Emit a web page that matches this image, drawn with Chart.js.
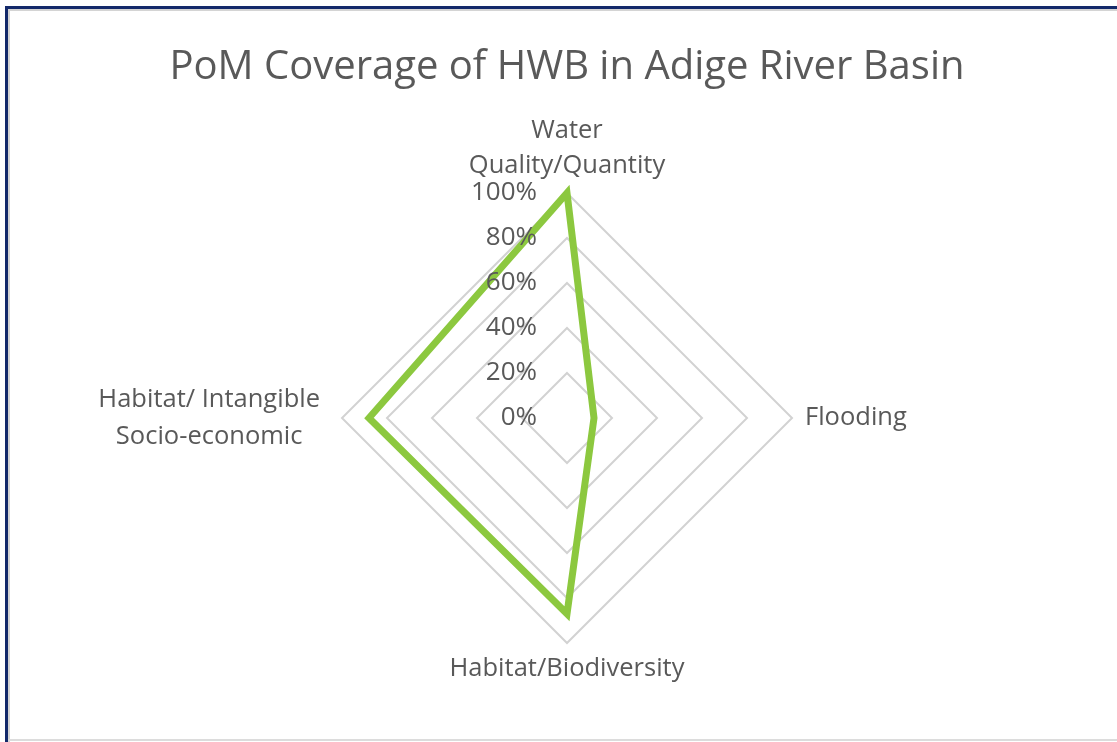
<!DOCTYPE html>
<html>
<head>
<meta charset="utf-8">
<script src="https://cdn.jsdelivr.net/npm/chart.js@4.4.1/dist/chart.umd.min.js"></script>
<style>
    html, body { margin: 0; padding: 0; background: #fff; overflow: hidden; }
    #wrap { position: relative; width: 1117px; height: 742px; overflow: hidden; }
    canvas { position: absolute; left: 0; top: 0; }
    .edge { position: absolute; background: #13296a; }
    #topEdge { left: 5px; top: 6px; width: 1112px; height: 3px; }
    #leftEdge { left: 5px; top: 6px; width: 3px; height: 736px; }
    #topShade { position: absolute; left: 8px; top: 9px; width: 1109px; height: 2px; background: #d4d4d4; }
    #leftShade { position: absolute; left: 8px; top: 9px; width: 2px; height: 733px; background: #d4d4d4; }
    #bottomLine { position: absolute; left: 8px; width: 1109px; top: 739px; height: 2px; background: #dcdcdc; }
</style>
</head>
<body>
<div id="wrap">
    <canvas id="radarChart" width="1117" height="742"></canvas>
    <div id="topShade"></div>
    <div id="leftShade"></div>
    <div id="bottomLine"></div>
    <div class="edge" id="topEdge"></div>
    <div class="edge" id="leftEdge"></div>
</div>
<script>
// Chart data
const chartTitle = 'PoM Coverage of HWB in Adige River Basin';
const categories = [
    ['Water', 'Quality/Quantity'],
    ['Flooding'],
    ['Habitat/Biodiversity'],
    ['Habitat/ Intangible', 'Socio-economic']
];
const coverage = [100, 12, 87, 88];
const tickValues = [0, 20, 40, 60, 80, 100];
const tickLabels = ['0%', '20%', '40%', '60%', '80%', '100%'];

const textColor = '#595959';
const fontFamily = '"Open Sans", "Liberation Sans", sans-serif';

// Draws title, tick labels (right-aligned left of centre) and category labels
const axisTextPlugin = {
    id: 'axisText',
    afterDatasetsDraw(chart) {
        const scale = chart.scales.r;
        const ctx = chart.ctx;
        ctx.save();
        ctx.fillStyle = textColor;
        ctx.textBaseline = 'middle';

        // title
        ctx.font = '40px ' + fontFamily;
        ctx.textAlign = 'center';
        ctx.fillText(chartTitle, scale.xCenter, 68);

        // tick labels
        ctx.font = '26px ' + fontFamily;
        ctx.textAlign = 'right';
        tickValues.forEach(function(v, i) {
            const y = scale.yCenter - scale.getDistanceFromCenterForValue(v);
            ctx.fillText(tickLabels[i], scale.xCenter - 30, y);
        });

        // category labels
        ctx.font = '25.5px ' + fontFamily;
        categories.forEach(function(lines, i) {
            const pos = scale.getPointPosition(i, scale.drawingArea);
            const n = lines.length;
            const dx = pos.x - scale.xCenter;
            const dy = pos.y - scale.yCenter;
            if (Math.abs(dx) < 1 && dy < 0) {
                ctx.textAlign = 'center';
                lines.forEach(function(t, j) {
                    ctx.fillText(t, pos.x, pos.y - 27 - (n - 1 - j) * 35);
                });
            } else if (Math.abs(dx) < 1) {
                ctx.textAlign = 'center';
                lines.forEach(function(t, j) {
                    ctx.fillText(t, pos.x, pos.y + 26 + j * 35);
                });
            } else if (dx > 0) {
                ctx.textAlign = 'left';
                lines.forEach(function(t, j) {
                    ctx.fillText(t, pos.x + 13, pos.y + (j - (n - 1) / 2) * 37);
                });
            } else {
                ctx.textAlign = 'center';
                const w = Math.max.apply(null, lines.map(t => ctx.measureText(t).width));
                lines.forEach(function(t, j) {
                    ctx.fillText(t, pos.x - 22 - w / 2, pos.y + (j - (n - 1) / 2) * 37);
                });
            }
        });
        ctx.restore();
    }
};

const ctx = document.getElementById('radarChart').getContext('2d');
const radarChart = new Chart(ctx, {
    type: 'radar',
    data: {
        labels: categories,
        datasets: [{
            label: 'PoM Coverage',
            data: coverage,
            borderColor: '#8cc83f',
            borderWidth: 7,
            borderJoinStyle: 'miter',
            fill: false,
            pointRadius: 0,
            pointHoverRadius: 0,
            tension: 0,
            clip: false
        }]
    },
    options: {
        responsive: false,
        animation: false,
        layout: {
            padding: { left: 342, right: 325, top: 193, bottom: 99 }
        },
        plugins: {
            legend: { display: false },
            tooltip: { enabled: false },
            title: { display: false }
        },
        scales: {
            r: {
                min: 0,
                max: 100,
                ticks: { display: false, stepSize: 20 },
                grid: { circular: false, color: '#d2d2d2', lineWidth: 2 },
                angleLines: { display: false },
                pointLabels: { display: false }
            }
        }
    },
    plugins: [axisTextPlugin]
});
</script>
</body>
</html>
